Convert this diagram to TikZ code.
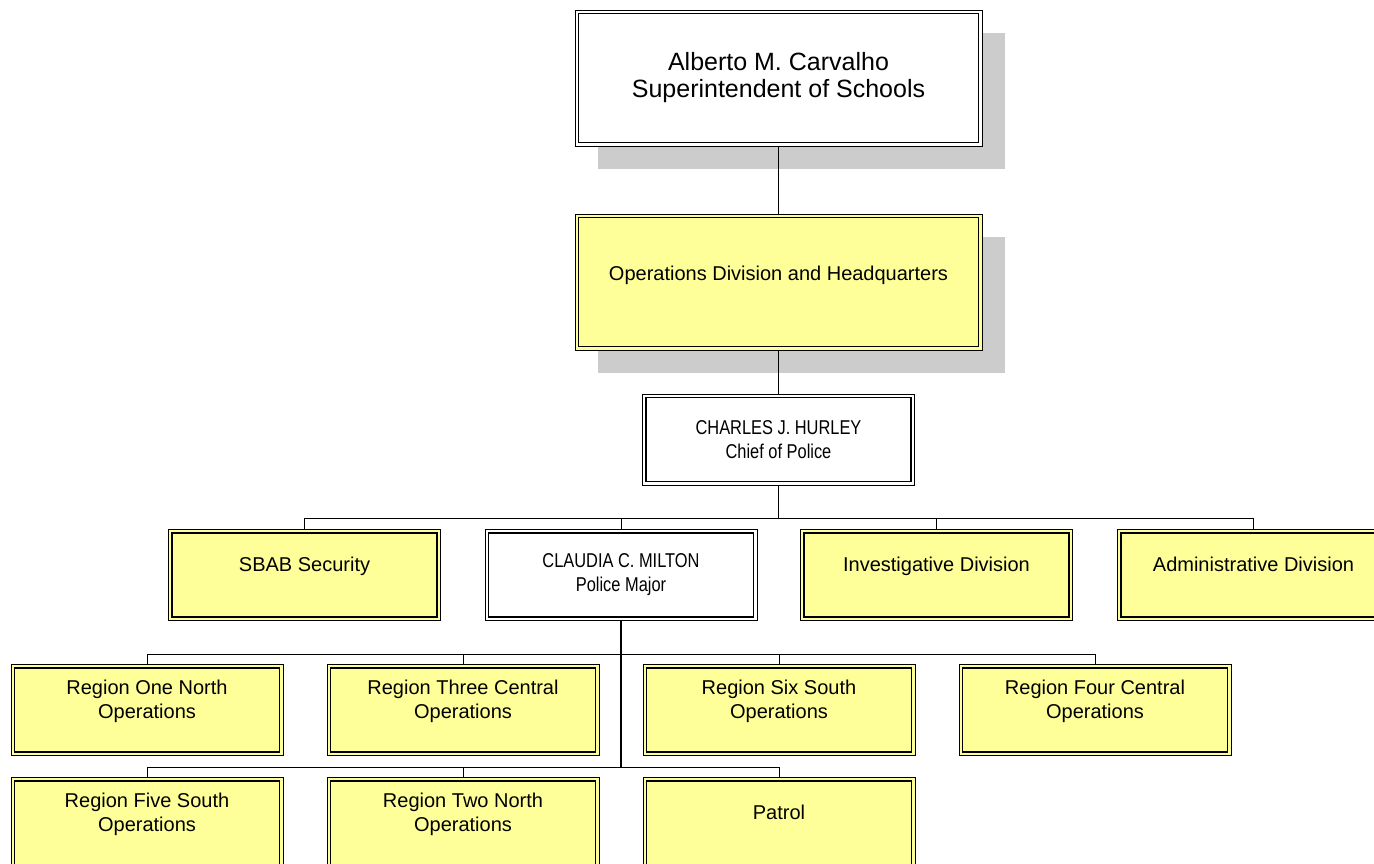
\documentclass[tikz,border=0pt]{standalone}
\usepackage{fontspec}
\setmainfont{Liberation Sans}
\newfontfamily\narrowfont{Liberation Sans}[FakeStretch=0.82]
\usetikzlibrary{shadows}
\definecolor{boxyellow}{HTML}{FFFF99}
\definecolor{shadowgray}{HTML}{CCCCCC}
\tikzset{
  orgbox/.style={draw, line width=0.8pt, align=center, inner sep=0pt,
    minimum width=272pt, minimum height=91pt, font=\fontsize{20}{24}\selectfont},
  unitbox/.style={orgbox, fill=boxyellow, text depth=21pt},
  namebox/.style={orgbox, fill=white, font=\narrowfont\fontsize{20}{24}\selectfont},
  bigbox/.style={orgbox, minimum width=407pt, minimum height=136pt,
    drop shadow={shadow xshift=22.5pt, shadow yshift=-22.5pt, fill=shadowgray, opacity=1}},
  link/.style={line width=0.8pt},
  trunk/.style={line width=1.8pt},
}
\begin{document}
\begin{tikzpicture}[x=1pt, y=-1pt]
\useasboundingbox (0,0) rectangle (1374,863);
\clip (0,0) rectangle (1374,863);
\def\xa{147};\def\xb{463};\def\xc{779};\def\xd{1095};
% top of the chart
\node[bigbox, fill=white, font=\fontsize{25}{27}\selectfont] (top) at (778.5,78)
  {Alberto M. Carvalho\\Superintendent of Schools};
\node[bigbox, fill=boxyellow, text depth=18pt] (ops) at (778.5,282)
  {Operations Division and Headquarters};
\node[namebox] (chief) at (778.5,439.5) {CHARLES J. HURLEY\\Chief of Police};
% divisions
\node[unitbox] (sbab) at (304.5,575) {SBAB Security};
\node[namebox] (milton) at (621,575) {CLAUDIA C. MILTON\\Police Major};
\node[unitbox] (invest) at (936.5,575) {Investigative Division};
\node[unitbox] (admin) at (1253.5,575) {Administrative Division};
% regions
\node[unitbox] (rone) at (\xa,710) {Region One North\\Operations};
\node[unitbox] (rthree) at (\xb,710) {Region Three Central\\Operations};
\node[unitbox] (rsix) at (\xc,710) {Region Six South\\Operations};
\node[unitbox] (rfour) at (\xd,710) {Region Four Central\\Operations};
\node[unitbox] (rfive) at (\xa,823) {Region Five South\\Operations};
\node[unitbox] (rtwo) at (\xb,823) {Region Two North\\Operations};
\node[unitbox] (patrol) at (\xc,823) {Patrol};
\foreach \n in {top,ops,chief,sbab,milton,invest,admin,rone,rthree,rsix,rfour,rfive,rtwo,patrol}
  \draw[line width=1.6pt] ([shift={(4pt,-4pt)}]\n.north west) rectangle ([shift={(-4pt,4pt)}]\n.south east);
% connectors
\coordinate (busA) at (778.5,518);
\coordinate (busB) at (621,654);
\coordinate (busC) at (621,767);
\draw[link] (top.south) -- (ops.north);
\draw[link] (ops.south) -- (chief.north);
\draw[trunk] (chief.south) -- (busA);
\foreach \n in {sbab,milton,invest,admin}
  \draw[link] (\n.north) |- (busA);
\draw[trunk] (milton.south) -- (busC);
\foreach \n in {rone,rthree,rsix,rfour}
  \draw[link] (\n.north) |- (busB);
\foreach \n in {rfive,rtwo,patrol}
  \draw[link] (\n.north) |- (busC);
\end{tikzpicture}
\end{document}
